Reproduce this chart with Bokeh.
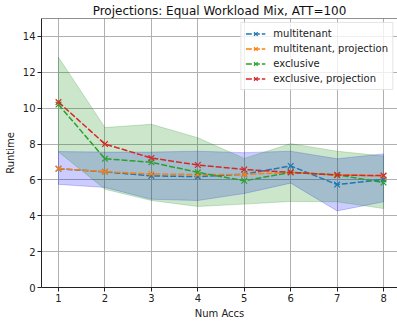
from bokeh.plotting import figure
from bokeh.models import Range1d, FixedTicker, Legend, LegendItem, Span
from bokeh.embed import file_html
from bokeh.resources import INLINE

num_accs = [1, 2, 3, 4, 5, 6, 7, 8]
multitenant = [6.62, 6.45, 6.22, 6.18, 6.32, 6.78, 5.74, 6.02]
multitenant_proj = [6.63, 6.46, 6.33, 6.30, 6.30, 6.42, 6.28, 6.22]
exclusive = [10.2, 7.18, 6.98, 6.42, 5.95, 6.42, 6.28, 5.85]
exclusive_proj = [10.34, 8.0, 7.22, 6.83, 6.58, 6.42, 6.27, 6.24]

multitenant_lo = [5.75, 5.58, 4.92, 4.85, 5.24, 5.82, 4.27, 4.78]
multitenant_hi = [7.58, 7.55, 7.55, 7.6, 7.52, 7.6, 7.18, 7.45]
exclusive_lo = [7.56, 5.48, 4.85, 4.52, 4.65, 4.8, 4.78, 4.4]
exclusive_hi = [12.84, 8.92, 9.1, 8.35, 7.2, 8.02, 7.6, 7.33]

y_ticks = [0, 2, 4, 6, 8, 10, 12, 14]

FONT = "DejaVu Sans"

p = figure(width=397, height=321, output_backend="svg", toolbar_location=None,
           x_range=Range1d(0.634, 8.30), y_range=Range1d(0, 15),
           title="Projections: Equal Workload Mix, ATT=100",
           min_border_left=41, min_border_right=0, min_border_top=0, min_border_bottom=0)

p.title.text_font = FONT
p.title.text_font_size = "12px"
p.title.text_font_style = "normal"
p.title.align = "center"
p.title.text_color = "#111111"
p.title.offset = 0
p.title.standoff = 2

# bands
p.patch(num_accs + num_accs[::-1], multitenant_hi + multitenant_lo[::-1],
        fill_color="blue", fill_alpha=0.2, line_color="blue", line_alpha=0.2, line_width=1)
p.patch(num_accs + num_accs[::-1], exclusive_hi + exclusive_lo[::-1],
        fill_color="green", fill_alpha=0.2, line_color="green", line_alpha=0.2, line_width=1)

series = [
    ("multitenant", multitenant, "#1f77b4"),
    ("multitenant, projection", multitenant_proj, "#ff7f0e"),
    ("exclusive", exclusive, "#2ca02c"),
    ("exclusive, projection", exclusive_proj, "#d62728"),
]
items = []
for name, ys, col in series:
    l = p.line(num_accs, ys, line_color=col, line_width=1.5, line_dash="6 2")
    s = p.scatter(num_accs, ys, marker="x", size=8, line_color=col, line_width=1.2)
    items.append(LegendItem(label=name, renderers=[l, s]))

legend = Legend(items=items, location="top_right")
legend.label_text_font = FONT
legend.label_text_font_size = "10px"
legend.label_text_color = "#222222"
legend.glyph_width = 20
legend.glyph_height = 13
legend.label_height = 13
legend.spacing = 2
legend.padding = 4
legend.margin = 4
legend.label_standoff = 8
legend.border_line_color = "#cccccc"
legend.border_line_width = 1
legend.background_fill_alpha = 0.8
p.add_layout(legend)

p.xaxis.ticker = FixedTicker(ticks=num_accs)
p.yaxis.ticker = FixedTicker(ticks=y_ticks)
p.xaxis.axis_label = "Num Accs"
p.yaxis.axis_label = "Runtime"
for ax in (p.xaxis, p.yaxis):
    ax.axis_label_text_font = FONT
    ax.axis_label_text_font_size = "10px"
    ax.axis_label_text_font_style = "normal"
    ax.axis_label_text_color = "#222222"
    ax.major_label_text_font = FONT
    ax.major_label_text_font_size = "10px"
    ax.major_label_text_color = "#222222"
    ax.minor_tick_line_color = None
    ax.major_tick_out = 4
    ax.major_tick_in = 0
    ax.axis_line_color = "#222222"
    ax.major_tick_line_color = "#222222"
p.xaxis.axis_label_standoff = 3
p.yaxis.axis_label_standoff = 4
p.xaxis.major_label_standoff = 2
p.yaxis.major_label_standoff = 2

p.xgrid.ticker = FixedTicker(ticks=num_accs)
p.ygrid.ticker = FixedTicker(ticks=y_ticks)
p.grid.grid_line_color = "#b0b0b0"
p.grid.grid_line_width = 1
p.outline_line_color = None
p.add_layout(Span(location=15, dimension="width", line_color="#222222", line_width=1))

open("out.html", "w").write(file_html(p, INLINE))
